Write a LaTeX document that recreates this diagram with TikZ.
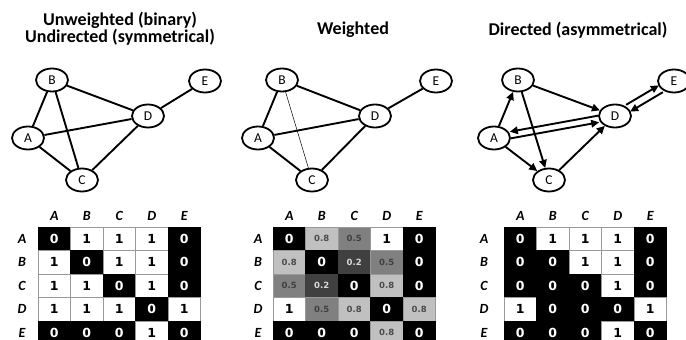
\documentclass[tikz,border=0pt]{standalone}
\usepackage{fontspec}
\setmainfont{Carlito}
\newfontfamily\numfont{DejaVu Sans}
\usetikzlibrary{arrows.meta,shapes.geometric}
\definecolor{lgray}{HTML}{C0C0C0}
\definecolor{mgray}{HTML}{808080}
\definecolor{dgray}{HTML}{404040}
\definecolor{gridgray}{HTML}{999999}
\begin{document}
\begin{tikzpicture}[x=1pt,y=-1pt,
  vtx/.style={ellipse,draw,line width=1.8pt,fill=white,minimum width=32pt,
    minimum height=23pt,inner sep=0pt,font=\fontsize{13.5}{13.5}\selectfont},
  lk/.style={line width=1.9pt},
  thinlk/.style={line width=0.5pt},
  ar/.style={lk,-{Triangle[length=8pt,width=7.5pt]}},
  ttl/.style={font=\fontsize{18}{17}\selectfont\bfseries,align=center},
  hdr/.style={font=\fontsize{14}{14}\selectfont\bfseries\itshape},
  cell/.style={minimum width=32.5pt,minimum height=23.5pt,inner sep=0pt,
    font=\numfont\bfseries\fontsize{12.5}{12.5}\selectfont},
  small/.style={font=\numfont\bfseries\fontsize{8.5}{8.5}\selectfont},
  bk/.style={fill=black,draw=black,text=white},
  wh/.style={fill=white,draw=gridgray,text=black},
  g8/.style={small,fill=lgray,draw=gridgray,text=black!70},
  g5/.style={small,fill=mgray,draw=gridgray,text=black!75},
  g2/.style={small,fill=dgray,draw=dgray,text=white!85!black},
]
\useasboundingbox (0,0) rectangle (686,340);

% ---- titles
\node[ttl] (t1) at (120,29) {Unweighted (binary)\\Undirected (symmetrical)};
\node[ttl] (t2) at (353,30) {Weighted};
\node[ttl] (t3) at (578,30) {Directed (asymmetrical)};

% ---- unweighted undirected graph
\node[vtx] (uB) at (52,80) {B};
\node[vtx] (uE) at (205,81) {E};
\node[vtx] (uD) at (148,116) {D};
\node[vtx] (uA) at (28,138) {A};
\node[vtx] (uC) at (82,180) {C};
\draw[lk] (uA) -- (uB);
\draw[lk] (uB) -- (uD);
\draw[lk] (uB) -- (uC);
\draw[lk] (uA) -- (uD);
\draw[lk] (uA) -- (uC);
\draw[lk] (uC) -- (uD);
\draw[lk] (uD) -- (uE);

% ---- weighted graph
\node[vtx] (wB) at (282,80) {B};
\node[vtx] (wE) at (436,81) {E};
\node[vtx] (wD) at (375,116) {D};
\node[vtx] (wA) at (258,138) {A};
\node[vtx] (wC) at (312,180) {C};
\draw[lk] (wA) -- (wB);
\draw[lk] (wB) -- (wD);
\draw[thinlk] (wB) -- (wC);
\draw[lk] (wA) -- (wD);
\draw[lk] (wA) -- (wC);
\draw[lk] (wC) -- (wD);
\draw[lk] (wD) -- (wE);

% ---- directed graph
\node[vtx] (dB) at (518,80) {B};
\node[vtx] (dE) at (674,81) {E};
\node[vtx] (dD) at (615,116) {D};
\node[vtx] (dA) at (494,138) {A};
\node[vtx] (dC) at (549,180) {C};
\draw[ar] (dA) -- (dB);
\draw[ar] (dB) -- (dD);
\draw[ar] (dB) -- (dC);
\draw[ar] (dA) -- (dC);
\draw[ar] (dC) -- (dD);
\draw[ar,transform canvas={shift={(-0.6pt,3.3pt)}}] (dD) -- (dA);
\draw[ar,transform canvas={shift={(0.6pt,-3.3pt)}}] (dA) -- (dD);
\draw[ar,transform canvas={shift={(-2pt,3.4pt)}}] (dD) -- (dE);
\draw[ar,transform canvas={shift={(2pt,-3.4pt)}}] (dE) -- (dD);

% ---- adjacency matrices
% #1 prefix, #2 left edge of grid, #3 x of row labels, #4 rows of style/value
\newcommand{\adjmat}[4]{%
  \foreach \lab [count=\j] in {A,B,C,D,E}{
    \node[hdr] (#1h\j) at ({#2+32.5*(\j-0.5)},216) {\lab};
    \node[hdr] (#1v\j) at (#3,{227+23.5*(\j-0.5)}) {\lab};
  }
  \foreach \row [count=\i] in {#4}{
    \foreach \st/\val [count=\j] in \row{
      \node[cell,\st] (#1c\i\j) at ({#2+32.5*(\j-0.5)},{227+23.5*(\i-0.5)}) {\val};
    }
  }%
}
\adjmat{u}{38}{22}{%
  {bk/0,wh/1,wh/1,wh/1,bk/0},
  {wh/1,bk/0,wh/1,wh/1,bk/0},
  {wh/1,wh/1,bk/0,wh/1,bk/0},
  {wh/1,wh/1,wh/1,bk/0,wh/1},
  {bk/0,bk/0,bk/0,wh/1,bk/0}}
\adjmat{w}{273}{258}{%
  {bk/0,g8/0.8,g5/0.5,wh/1,bk/0},
  {g8/0.8,bk/0,g2/0.2,g5/0.5,bk/0},
  {g5/0.5,g2/0.2,bk/0,g8/0.8,bk/0},
  {wh/1,g5/0.5,g8/0.8,bk/0,g8/0.8},
  {bk/0,bk/0,bk/0,g8/0.8,bk/0}}
\adjmat{d}{504}{484}{%
  {bk/0,wh/1,wh/1,wh/1,bk/0},
  {bk/0,bk/0,wh/1,wh/1,bk/0},
  {bk/0,bk/0,bk/0,wh/1,bk/0},
  {wh/1,bk/0,bk/0,bk/0,wh/1},
  {bk/0,bk/0,bk/0,wh/1,bk/0}}
\end{tikzpicture}
\end{document}
